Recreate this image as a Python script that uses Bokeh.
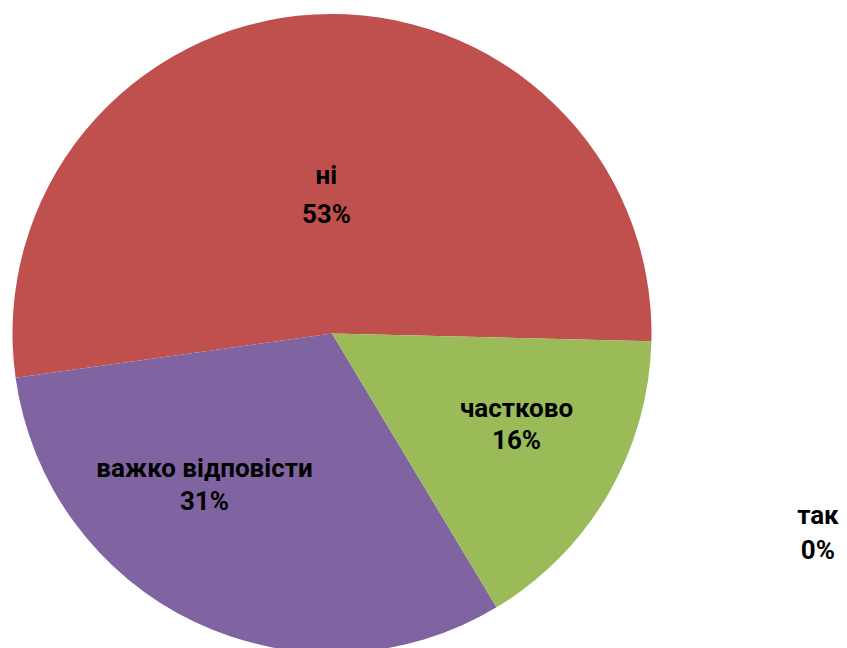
import numpy as np
from bokeh.plotting import figure
from bokeh.models import ColumnDataSource, Range1d
from bokeh.embed import file_html
from bokeh.resources import INLINE
from bokeh.core.properties import value

# ---- data ----
categories = ["ні", "важко відповісти", "частково", "так"]
shares = [52.6, 31.4, 16.0, 0.0]

# ---- style / layout ----
colors = ["#C0504D", "#8064A2", "#9BBB59", "#4F81BD"]
START_DEG = -1.4          # start angle of first slice (counterclockwise)
W, H = 847, 648
CX, CY, R = 331.5, 315.0, 319.5
label_r = [139.0, 197.6, 205.4, 525.0]        # label anchor distance from centre (px)
label_ang = [92.3, 229.8, -26.05, -22.24]     # label anchor angle (deg)
label_gap = [39.0, 33.0, 32.0, 35.0]          # baseline distance between the two lines
FONT = "Roboto"
FSIZE = "26px"

vals = np.array(shares, dtype=float)
frac = vals / vals.sum()
ang = frac * 2 * np.pi
start = np.deg2rad(START_DEG) + np.concatenate([[0], np.cumsum(ang)[:-1]])
end = start + ang

keep = vals > 0   # a zero-width wedge would be drawn as a full disc
src = ColumnDataSource(dict(
    cat=[c for c, k in zip(categories, keep) if k],
    start=start[keep], end=end[keep],
    color=[c for c, k in zip(colors, keep) if k],
    x=[CX] * int(keep.sum()), y=[CY] * int(keep.sum()),
))

p = figure(width=W, height=H, output_backend="svg", toolbar_location=None,
           x_range=Range1d(0, W), y_range=Range1d(0, H),
           x_axis_location=None, y_axis_location=None, min_border=0,
           background_fill_color="white", border_fill_color="white")
p.grid.visible = False
p.outline_line_color = None

p.wedge(x="x", y="y", radius=R, start_angle="start", end_angle="end",
        fill_color="color", line_color=None, source=src)

la = np.deg2rad(label_ang)
ax = CX + np.array(label_r) * np.cos(la)
ay = CY + np.array(label_r) * np.sin(la)
gap = np.array(label_gap)
pct = [f"{round(v)}%" for v in shares]

lsrc = ColumnDataSource(dict(
    name=categories, pct=pct, x=ax, y1=ay + gap / 2, y2=ay - gap / 2,
))
common = dict(text_align="center", text_baseline="alphabetic",
              text_font=value(FONT), text_font_style="bold",
              text_font_size=FSIZE, text_color="black", source=lsrc)
p.text(x="x", y="y1", text="name", **common)
p.text(x="x", y="y2", text="pct", **common)

open("out.html", "w").write(file_html(p, INLINE))
